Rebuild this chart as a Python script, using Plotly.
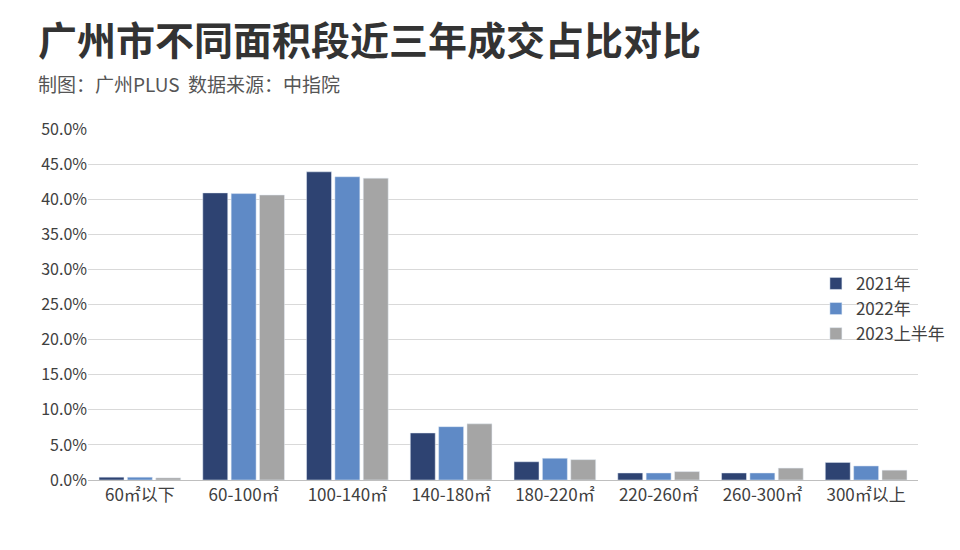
import plotly.graph_objs as go

categories = ['60㎡以下', '60-100㎡', '100-140㎡', '140-180㎡', '180-220㎡', '220-260㎡', '260-300㎡', '300㎡以上']
y2021 = [0.4, 40.9, 43.9, 6.7, 2.6, 1.0, 1.0, 2.5]
y2022 = [0.4, 40.8, 43.2, 7.6, 3.1, 1.0, 1.0, 2.0]
y2023 = [0.3, 40.6, 43.0, 8.0, 2.9, 1.2, 1.7, 1.4]
series = [('2021年', y2021, '#2E4372'), ('2022年', y2022, '#5F8AC6'), ('2023上半年', y2023, '#A5A5A5')]

font = "Noto Sans CJK SC"
fig = go.Figure()
for name, vals, color in series:
    fig.add_trace(go.Bar(x=categories, y=vals, name=name, marker_color=color))

fig.update_layout(
    width=960, height=550,
    plot_bgcolor='white', paper_bgcolor='white',
    font=dict(family=font, color='#404040', size=15),
    margin=dict(l=80, r=50, t=121, b=78),
    bargap=0.18, bargroupgap=0.12,
    legend=dict(x=0.877, y=0.61, xanchor='left', yanchor='top', font=dict(size=17),
                bgcolor='rgba(0,0,0,0)', tracegroupgap=12),
    yaxis=dict(range=[0, 50], dtick=5, ticksuffix='%', tickformat='.1f',
               gridcolor='#D9D9D9', zeroline=False, tickfont=dict(size=16)),
    xaxis=dict(showline=True, linecolor='#BFBFBF', tickfont=dict(size=17)),
    annotations=[
        dict(text='<b>广州市不同面积段近三年成交占比对比</b>', x=-0.063, y=1.345, xref='paper', yref='paper',
             xanchor='left', yanchor='top', showarrow=False, font=dict(size=39, color='#333333', family=font)),
        dict(text='制图：广州PLUS  数据来源：中指院', x=-0.063, y=1.175, xref='paper', yref='paper',
             xanchor='left', yanchor='top', showarrow=False, font=dict(size=19, color='#555555', family=font)),
    ],
)

fig.write_html("out.html")
